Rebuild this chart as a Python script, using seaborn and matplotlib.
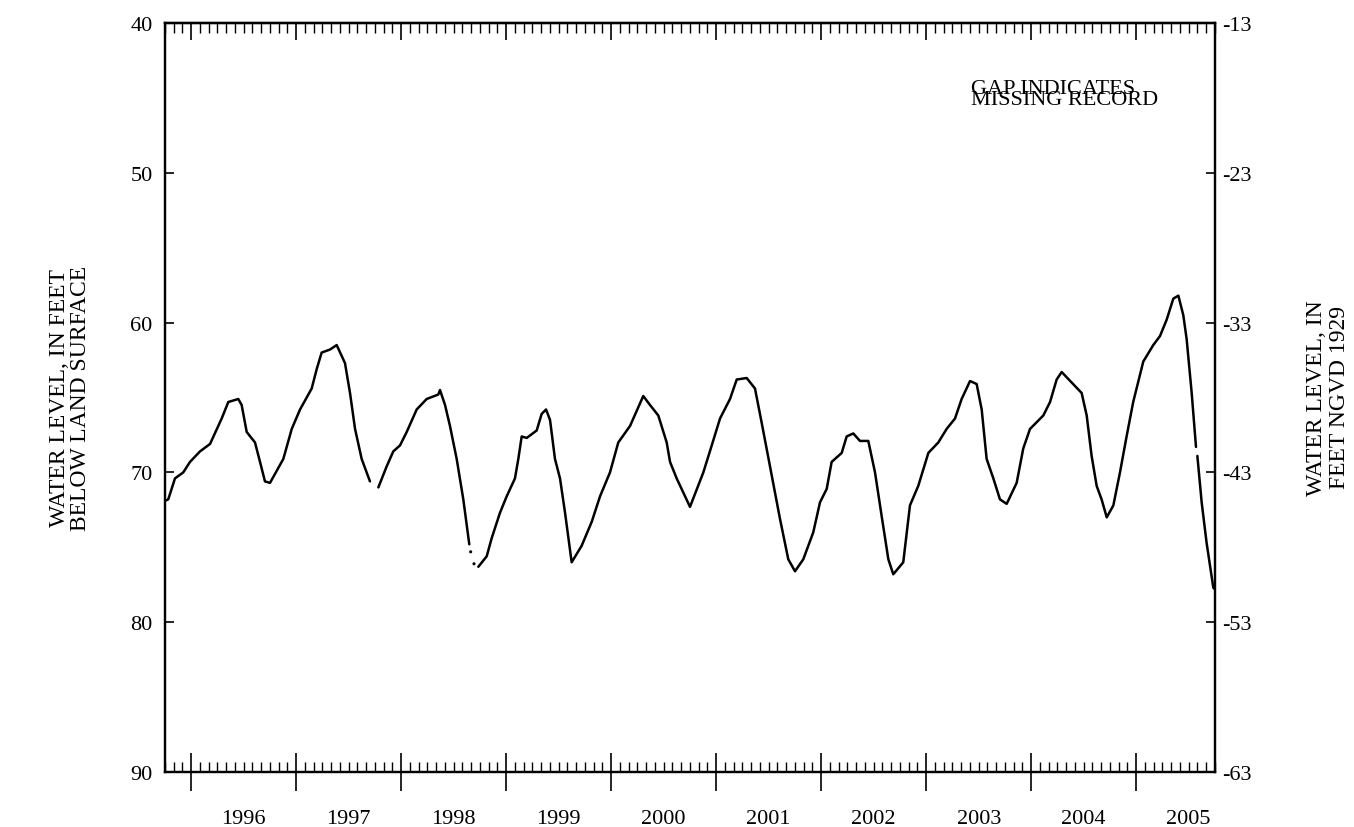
import numpy as np
import pandas as pd
import matplotlib
matplotlib.use('Agg')
import matplotlib.pyplot as plt
import seaborn as sns

sns.set_style('ticks')
plt.rcParams['font.family'] = ['Liberation Serif', 'DejaVu Serif']
plt.rcParams['axes.unicode_minus'] = False
plt.rcParams['text.color'] = 'black'
plt.rcParams['axes.edgecolor'] = 'black'
plt.rcParams['xtick.color'] = 'black'
plt.rcParams['ytick.color'] = 'black'
plt.rcParams['xtick.labelcolor'] = 'black'
plt.rcParams['ytick.labelcolor'] = 'black'

# ---- data (decimal year, feet below land surface) ----
seg1_year = [1995.750, 1995.781, 1995.845, 1995.924, 1995.988, 1996.083, 1996.179, 1996.290,
             1996.353, 1996.448, 1996.480, 1996.528, 1996.607, 1996.655, 1996.702, 1996.750,
             1996.877, 1996.957, 1997.036, 1997.147, 1997.195, 1997.242, 1997.321, 1997.385,
             1997.464, 1997.512, 1997.560, 1997.623, 1997.702]
seg1_level = [71.9, 71.8, 70.4, 70.0, 69.3, 68.6, 68.1, 66.4,
              65.3, 65.1, 65.5, 67.3, 68.0, 69.3, 70.6, 70.7,
              69.1, 67.1, 65.8, 64.4, 63.1, 62.0, 61.8, 61.5,
              62.7, 64.7, 67.1, 69.1, 70.6]

seg2_year = [1997.782, 1997.861, 1997.924, 1997.988, 1998.052, 1998.147, 1998.242, 1998.353,
             1998.369, 1998.417, 1998.464, 1998.528, 1998.591, 1998.648]
seg2_level = [71.0, 69.6, 68.6, 68.2, 67.3, 65.8, 65.1, 64.8,
              64.5, 65.5, 66.9, 69.1, 71.8, 74.8]

dots_year = [1998.661, 1998.693]
dots_level = [75.3, 76.1]

seg3_year = [1998.734, 1998.814, 1998.861, 1998.940, 1999.004, 1999.083, 1999.115, 1999.147,
             1999.195, 1999.290, 1999.337, 1999.379, 1999.417, 1999.464, 1999.512, 1999.560,
             1999.623, 1999.718, 1999.814, 1999.893, 1999.988, 2000.067, 2000.179, 2000.242,
             2000.305, 2000.369, 2000.448, 2000.528, 2000.560, 2000.623, 2000.750, 2000.877,
             2000.957, 2001.036, 2001.131, 2001.195, 2001.290, 2001.369, 2001.433, 2001.512,
             2001.607, 2001.686, 2001.750, 2001.829, 2001.924, 2001.988, 2002.052, 2002.099,
             2002.195, 2002.242, 2002.305, 2002.369, 2002.448, 2002.512, 2002.575, 2002.639,
             2002.686, 2002.781, 2002.845, 2002.924, 2003.020, 2003.115, 2003.194, 2003.274,
             2003.337, 2003.417, 2003.480, 2003.528, 2003.575, 2003.639, 2003.702, 2003.766,
             2003.861, 2003.924, 2003.988, 2004.115, 2004.179, 2004.242, 2004.290, 2004.385,
             2004.480, 2004.528, 2004.575, 2004.623, 2004.670, 2004.719, 2004.782, 2004.845,
             2004.908, 2004.971, 2005.067, 2005.162, 2005.226, 2005.290, 2005.353, 2005.401,
             2005.448, 2005.480, 2005.528, 2005.569]
seg3_level = [76.3, 75.6, 74.4, 72.7, 71.6, 70.4, 69.1, 67.6,
              67.7, 67.2, 66.1, 65.8, 66.5, 69.1, 70.4, 72.7,
              76.0, 74.9, 73.3, 71.6, 70.0, 68.0, 66.9, 65.9,
              64.9, 65.5, 66.2, 68.0, 69.3, 70.4, 72.3, 70.0,
              68.2, 66.4, 65.1, 63.8, 63.7, 64.4, 66.7, 69.6,
              73.1, 75.8, 76.6, 75.8, 74.0, 72.0, 71.1, 69.3,
              68.7, 67.6, 67.4, 67.9, 67.9, 70.0, 72.9, 75.8,
              76.8, 76.0, 72.2, 70.9, 68.7, 68.0, 67.1, 66.4,
              65.1, 63.9, 64.1, 65.8, 69.1, 70.4, 71.8, 72.1,
              70.7, 68.4, 67.1, 66.2, 65.3, 63.8, 63.3, 64.0,
              64.7, 66.2, 68.9, 70.9, 71.8, 73.0, 72.2, 70.0,
              67.6, 65.3, 62.6, 61.5, 60.9, 59.8, 58.4, 58.2,
              59.5, 61.1, 64.7, 68.3]

seg4_year = [2005.582, 2005.623, 2005.670, 2005.734, 2005.750]
seg4_level = [68.9, 72.0, 74.7, 77.7, 77.8]

year_labels = ['1996', '1997', '1998', '1999', '2000', '2001', '2002', '2003', '2004', '2005']
left_ticks = [40, 50, 60, 70, 80, 90]
right_ticks = [-13, -23, -33, -43, -53, -63]
datum_offset = 27  # ft: NGVD 1929 = offset - depth below land surface

segs = []
for i, (yr, lv) in enumerate([(seg1_year, seg1_level), (seg2_year, seg2_level),
                              (seg3_year, seg3_level), (seg4_year, seg4_level)]):
    segs.append(pd.DataFrame({'year': yr, 'level': lv, 'seg': i}))
df = pd.concat(segs, ignore_index=True)
dots = pd.DataFrame({'year': dots_year, 'level': dots_level})

# ---- figure ----
fig = plt.figure(figsize=(13.54, 8.28), dpi=100)
ax = fig.add_axes([165 / 1354, 1 - 773 / 828, 1050 / 1354, 749 / 828])

sns.lineplot(data=df, x='year', y='level', units='seg', estimator=None,
             color='black', linewidth=1.8, ax=ax, legend=False)
sns.scatterplot(data=dots, x='year', y='level', color='black', s=5,
                edgecolor='none', ax=ax, legend=False)

ax.set_xlim(1995.75, 2005.75)
ax.set_ylim(90, 40)
ax.set_xlabel('')
ax.set_ylabel('')
for sp in ax.spines.values():
    sp.set_linewidth(1.6)
    sp.set_visible(True)

# x ticks: Jan 1 majors, monthly minors
majors = np.arange(1996, 2006)
minors = np.arange(1995.75, 2005.76, 1 / 12)
ax.set_xticks(majors)
ax.set_xticks(minors, minor=True)
ax.tick_params(axis='x', which='major', direction='inout', length=27, width=1.2,
               bottom=True, top=False, labelbottom=False)
ax.tick_params(axis='x', which='minor', direction='in', length=7, width=1,
               bottom=True, top=False)

top = ax.secondary_xaxis('top')
top.set_xticks(majors)
top.set_xticks(minors, minor=True)
top.tick_params(which='major', direction='in', length=12.5, width=1.2, labeltop=False)
top.tick_params(which='minor', direction='in', length=7, width=1)
top.spines['top'].set_linewidth(1.6)

lab = ax.secondary_xaxis('bottom')
lab.set_xticks(majors + 0.5, year_labels)
lab.tick_params(length=0, pad=27, labelsize=16)
lab.spines['bottom'].set_visible(False)

# left / right y axes
ax.set_yticks(left_ticks)
ax.tick_params(axis='y', which='major', direction='in', length=6.5, width=1.2,
               left=True, right=False, labelsize=16, pad=9)
ax.yaxis.set_minor_locator(plt.NullLocator())

ax2 = ax.twinx()
ax2.set_ylim(datum_offset - 90, datum_offset - 40)
ax2.set_yticks(right_ticks)
ax2.tick_params(axis='y', direction='in', length=6.5, width=1.2, labelsize=16, pad=5)
for sp in ax2.spines.values():
    sp.set_linewidth(1.6)

# annotation (tightly stacked lines, as in the original)
ax.text(2003.43, 45.41, 'GAP INDICATES\nMISSING RECORD', fontsize=16,
        ha='left', va='baseline', multialignment='left', linespacing=0.45)

# axis titles
fig.text(70 / 1354, 1 - 398 / 828, 'WATER LEVEL, IN FEET\nBELOW LAND SURFACE',
         rotation=90, ha='center', va='center', fontsize=17, linespacing=0.95)
fig.text(1328 / 1354, 1 - 398 / 828, 'WATER LEVEL, IN\nFEET NGVD 1929',
         rotation=90, ha='center', va='center', fontsize=17, linespacing=1.1)

plt.savefig('out.png', dpi=100)
plt.close()
